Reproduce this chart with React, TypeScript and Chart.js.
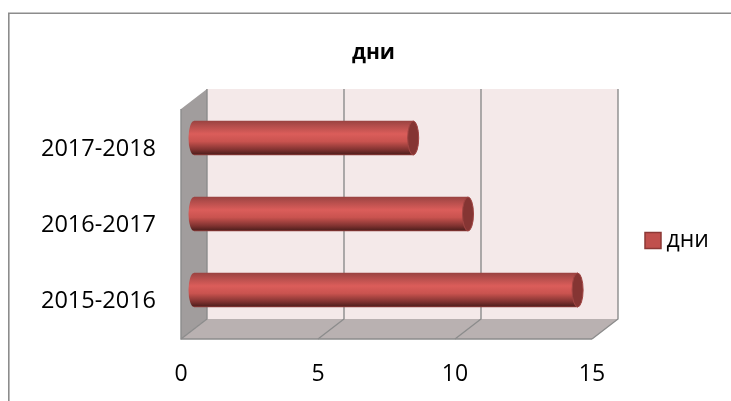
import React, { useEffect, useRef } from "react";
import { Chart, registerables } from "chart.js";

Chart.register(...registerables);

const categories = ["2015-2016", "2016-2017", "2017-2018"];
const days = [14, 10, 8];
const seriesName = "дни";
const xTicks = [0, 5, 10, 15];

const FONT = "'Open Sans', 'Noto Sans', sans-serif";
const DX = 26; // 3D depth, horizontal
const DY = 20; // 3D depth, vertical
const WALL_EXTRA = 2; // walls rise slightly above the plot area
const BAR_H = 34;

const scene3d = {
  id: "scene3d",
  beforeLayout(chart: any) {
    const l = chart.legend;
    if (l && !l.__wrapped) {
      const fit = l.fit;
      l.fit = function () {
        fit.call(this);
        this.width = 139;
      };
      l.__wrapped = true;
    }
  },
  afterLayout(chart: any) {
    const l = chart.legend;
    if (l) {
      l.top += 40;
      l.bottom += 40;
      l.left = 635;
      l.right = 731;
    }
  },
  beforeDraw(chart: any) {
    const c = chart.ctx;
    c.save();
    c.strokeStyle = "#8c8c8c";
    c.lineWidth = 1.6;
    c.beginPath();
    c.moveTo(8.8, 401);
    c.lineTo(8.8, 13.3);
    c.lineTo(731, 13.3);
    c.stroke();
    c.restore();
  },
  beforeDatasetsDraw(chart: any) {
    const c = chart.ctx;
    const { left, right, bottom } = chart.chartArea;
    const top = chart.chartArea.top - WALL_EXTRA;
    const xs = chart.scales.x;
    const ys = chart.scales.y;
    c.save();
    // back wall
    c.fillStyle = "#F4E9E9";
    c.fillRect(left + DX, top - DY, right - left, bottom - top);
    // side wall
    c.fillStyle = "#A19D9D";
    c.beginPath();
    c.moveTo(left, top);
    c.lineTo(left + DX, top - DY);
    c.lineTo(left + DX, bottom - DY);
    c.lineTo(left, bottom);
    c.closePath();
    c.fill();
    // floor
    c.fillStyle = "#B9B1B1";
    c.beginPath();
    c.moveTo(left, bottom);
    c.lineTo(left + DX, bottom - DY);
    c.lineTo(right + DX, bottom - DY);
    c.lineTo(right, bottom);
    c.closePath();
    c.fill();
    // grid lines over walls and floor
    c.strokeStyle = "#8c8c8c";
    c.lineWidth = 1.4;
    xs.ticks.forEach((_: any, i: number) => {
      const x = xs.getPixelForTick(i);
      c.beginPath();
      c.moveTo(x + DX, top - DY);
      c.lineTo(x + DX, bottom - DY);
      c.lineTo(x, bottom);
      c.stroke();
    });
    // front edges
    c.beginPath();
    c.moveTo(left, top);
    c.lineTo(left, bottom);
    c.lineTo(right, bottom);
    c.stroke();
    c.restore();

    // bars sit half way into the depth
    c.save();
    c.translate(DX / 2, -DY / 2 - 1);
    const meta = chart.getDatasetMeta(0);
    meta.data.forEach((bar: any, i: number) => {
      c.fillStyle = barGradient(c, ys, i);
      c.beginPath();
      c.ellipse(bar.base, bar.y, 5.5, BAR_H / 2, 0, 0, Math.PI * 2);
      c.fill();
    });
  },
  afterDatasetsDraw(chart: any) {
    const c = chart.ctx;
    const meta = chart.getDatasetMeta(0);
    meta.data.forEach((bar: any) => {
      c.fillStyle = "#853533";
      c.strokeStyle = "#A04543";
      c.lineWidth = 1;
      c.beginPath();
      c.ellipse(bar.x, bar.y, 5.5, BAR_H / 2, 0, 0, Math.PI * 2);
      c.fill();
      c.stroke();
    });
    c.restore();
  },
  afterDraw(chart: any) {
    // legend swatch
    const l = chart.legend;
    const c = chart.ctx;
    c.save();
    c.fillStyle = "#C0504D";
    c.strokeStyle = "#8C3836";
    c.lineWidth = 1.5;
    const y = (l.top + l.bottom) / 2 - 8;
    c.fillRect(l.left + 10, y, 16, 16);
    c.strokeRect(l.left + 10, y, 16, 16);
    c.restore();
  },
};

function barGradient(c: CanvasRenderingContext2D, ys: any, i: number) {
  const y = ys.getPixelForValue(i);
  const g = c.createLinearGradient(0, y - BAR_H / 2, 0, y + BAR_H / 2);
  g.addColorStop(0, "#9A4341");
  g.addColorStop(0.12, "#B04C4A");
  g.addColorStop(0.38, "#DB5D5A");
  g.addColorStop(0.6, "#C9534F");
  g.addColorStop(0.85, "#7F3230");
  g.addColorStop(0.96, "#572220");
  g.addColorStop(1, "#8E3A38");
  return g;
}

export default function App() {
  const ref = useRef<HTMLCanvasElement>(null);
  useEffect(() => {
    const chart = new Chart(ref.current as HTMLCanvasElement, {
      type: "bar",
      data: {
        labels: categories,
        datasets: [
          {
            label: seriesName,
            data: days,
            backgroundColor: (ctx: any) => barGradient(ctx.chart.ctx, ctx.chart.scales.y, ctx.dataIndex),
            barThickness: BAR_H,
          },
        ],
      },
      plugins: [scene3d],
      options: {
        indexAxis: "y",
        animation: false,
        responsive: false,
        devicePixelRatio: 1,
        layout: { padding: { left: 16, top: 0, right: 0, bottom: 0 } },
        plugins: {
          title: {
            display: true,
            text: seriesName,
            color: "#000",
            font: { family: FONT, size: 21, weight: "bold" },
            padding: { top: 40, bottom: 45.8 },
          },
          legend: {
            display: true,
            position: "right",
            labels: {
              color: "#000",
              font: { family: FONT, size: 23 },
              boxWidth: 10,
              boxHeight: 16,
              padding: 10,
              generateLabels: () => [
                {
                  text: seriesName,
                  fillStyle: "transparent",
                  strokeStyle: "transparent",
                  lineWidth: 0,
                  datasetIndex: 0,
                },
              ],
            },
          },
          tooltip: { enabled: false },
        },
        scales: {
          x: {
            min: 0,
            max: 15,
            afterBuildTicks: (s: any) => {
              s.ticks = xTicks.map((value) => ({ value }));
            },
            afterFit: (s: any) => {
              s.height = 62;
            },
            grid: { display: false },
            border: { display: false },
            ticks: {
              color: "#000",
              font: { family: FONT, size: 23 },
              padding: 14,
              maxRotation: 0,
            },
          },
          y: {
            reverse: true,
            afterFit: (s: any) => {
              s.width = 165;
            },
            grid: { display: false },
            border: { display: false },
            ticks: {
              color: "#000",
              font: { family: FONT, size: 23.5 },
              padding: 17,
            },
          },
        },
      } as any,
    } as any);
    return () => chart.destroy();
  }, []);
  return (
    <div style={{ position: "fixed", left: 0, top: 0, width: 731, height: 401, background: "#fff" }}>
      <canvas ref={ref} width={731} height={401} style={{ display: "block" }} />
    </div>
  );
}
